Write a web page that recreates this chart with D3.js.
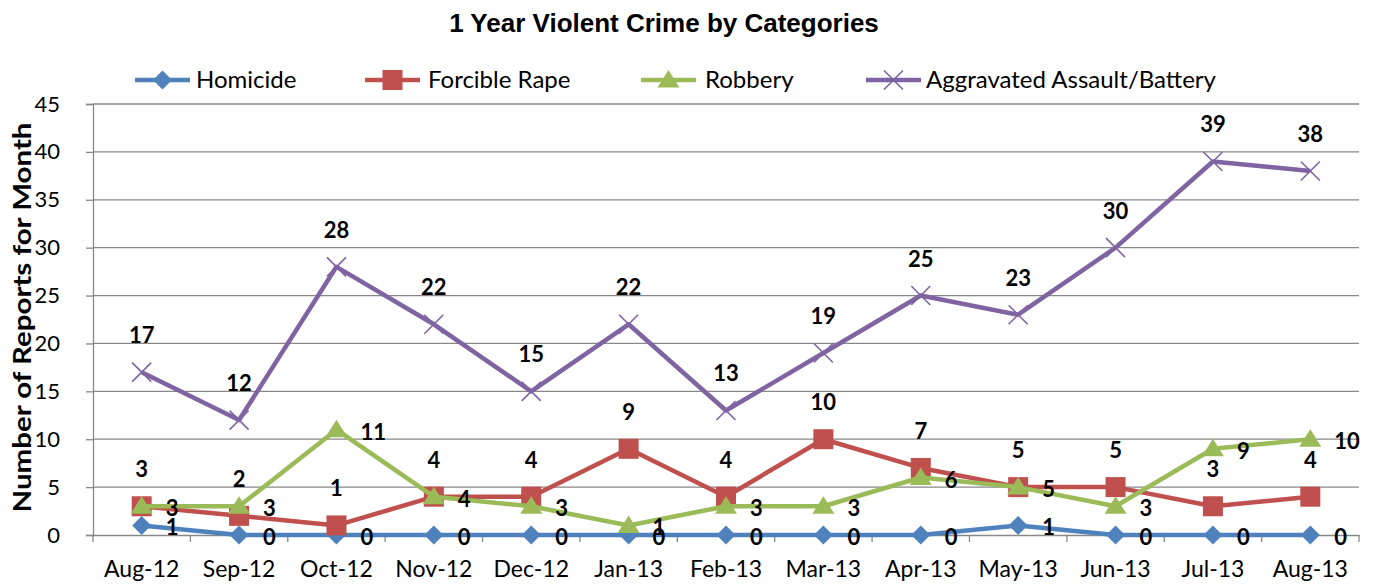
<!DOCTYPE html>
<html>
<head>
<meta charset="utf-8">
<script src="https://cdn.jsdelivr.net/npm/d3@7/dist/d3.min.js"></script>
<style>
  html, body { margin: 0; padding: 0; background: #fff; }
  svg { display: block; }
</style>
</head>
<body>
<svg id="chart" width="1377" height="584"></svg>
<script>
// Monthly report counts, Aug 2012 – Aug 2013
const months = ["Aug-12","Sep-12","Oct-12","Nov-12","Dec-12","Jan-13","Feb-13","Mar-13","Apr-13","May-13","Jun-13","Jul-13","Aug-13"];
const homicide   = [1,0,0,0,0,0,0,0,0,1,0,0,0];
const rape       = [3,2,1,4,4,9,4,10,7,5,5,3,4];
const robbery    = [3,3,11,4,3,1,3,3,6,5,3,9,10];
const aggravated = [17,12,28,22,15,22,13,19,25,23,30,39,38];
const yTicks = [0,5,10,15,20,25,30,35,40,45];

const seriesList = [
  { name: "Homicide", values: homicide, color: "#4F81BD", marker: "diamond", label: "right" },
  { name: "Forcible Rape", values: rape, color: "#C0504D", marker: "square", label: "above" },
  { name: "Robbery", values: robbery, color: "#9BBB59", marker: "triangle", label: "right" },
  { name: "Aggravated Assault/Battery", values: aggravated, color: "#8064A2", marker: "cross", label: "above" }
];

const plot = { left: 93, right: 1359, top: 104, bottom: 535 };
const svg = d3.select("#chart");
const bodyFont = "Lato, 'Open Sans', sans-serif";
const gridColor = "#888";

const x = d3.scaleBand().domain(months).range([plot.left, plot.right]);
const y = d3.scaleLinear().domain([0, 45]).range([plot.bottom, plot.top]);
const cx = m => x(m) + x.bandwidth() / 2;

// Title
svg.append("text")
  .attr("x", 664).attr("y", 32)
  .attr("text-anchor", "middle")
  .attr("font-family", "'Liberation Sans', Arial, sans-serif")
  .attr("font-weight", "bold").attr("font-size", 26)
  .text("1 Year Violent Crime by Categories");

// Horizontal gridlines
svg.append("g").selectAll("line").data(yTicks.filter(t => t > 0)).join("line")
  .attr("x1", plot.left).attr("x2", plot.right)
  .attr("y1", d => y(d)).attr("y2", d => y(d))
  .attr("stroke", gridColor).attr("stroke-width", 1.3);

// Y axis
const yAxis = svg.append("g").attr("transform", `translate(${plot.left},0)`)
  .call(d3.axisLeft(y).tickValues(yTicks).tickSize(7).tickPadding(26));
yAxis.select(".domain").attr("stroke", gridColor).attr("stroke-width", 1.3);
yAxis.selectAll(".tick line").attr("stroke", gridColor).attr("stroke-width", 1.3);
yAxis.selectAll("text").attr("font-family", bodyFont).attr("font-size", 22).attr("fill", "#000");

// X axis with ticks between categories
const xAxis = svg.append("g").attr("transform", `translate(0,${plot.bottom})`)
  .call(d3.axisBottom(x).tickSize(0).tickPadding(26));
xAxis.select(".domain").attr("stroke", gridColor).attr("stroke-width", 1.3);
xAxis.selectAll("text").attr("font-family", bodyFont).attr("font-size", 23).attr("fill", "#000");
const edges = months.map(m => x(m)).concat([plot.right]);
svg.append("g").selectAll("line").data(edges).join("line")
  .attr("x1", d => d).attr("x2", d => d)
  .attr("y1", plot.bottom).attr("y2", plot.bottom + 7)
  .attr("stroke", gridColor).attr("stroke-width", 1.3);

// Y axis title
svg.append("text")
  .attr("transform", `translate(31,${(plot.top + plot.bottom) / 2 - 2}) rotate(-90)`)
  .attr("text-anchor", "middle")
  .attr("font-family", bodyFont).attr("font-weight", "bold").attr("font-size", 25)
  .attr("textLength", 390).attr("lengthAdjust", "spacingAndGlyphs")
  .text("Number of Reports for Month");

// Marker drawing
function drawMarker(g, type, color) {
  if (type === "diamond") {
    const s = 9.5;
    g.append("path").attr("d", `M0,${-s}L${s},0L0,${s}L${-s},0Z`).attr("fill", color);
  } else if (type === "square") {
    const s = 10;
    g.append("rect").attr("x", -s).attr("y", -s).attr("width", 2 * s).attr("height", 2 * s).attr("fill", color);
  } else if (type === "triangle") {
    g.append("path").attr("d", "M0,-10L11,7.5L-11,7.5Z").attr("fill", color);
  } else if (type === "cross") {
    const s = 9.5;
    g.append("path").attr("d", `M${-s},${-s}L${s},${s}M${-s},${s}L${s},${-s}`)
      .attr("stroke", color).attr("stroke-width", 1.6).attr("fill", "none");
  }
}

const line = d3.line().x((d, i) => cx(months[i])).y(d => y(d));

// Series lines and markers
seriesList.forEach(s => {
  const g = svg.append("g");
  g.append("path").datum(s.values)
    .attr("d", line).attr("fill", "none")
    .attr("stroke", s.color).attr("stroke-width", 4.5).attr("stroke-linejoin", "round");
  s.values.forEach((v, i) => {
    const mg = g.append("g").attr("transform", `translate(${cx(months[i])},${y(v)})`);
    drawMarker(mg, s.marker, s.color);
  });
});

// Value labels
seriesList.forEach(s => {
  svg.append("g").selectAll("text").data(s.values).join("text")
    .attr("x", (d, i) => s.label === "above" ? cx(months[i]) : cx(months[i]) + 24)
    .attr("y", d => s.label === "above" ? y(d) - 29 : y(d) + 10)
    .attr("text-anchor", s.label === "above" ? "middle" : "start")
    .attr("font-family", bodyFont).attr("font-weight", "bold").attr("font-size", 22)
    .attr("fill", "#000")
    .text(d => d);
});

// Legend
const legendPos = [
  { x0: 135, tx: 196 },
  { x0: 365, tx: 428 },
  { x0: 641, tx: 705 },
  { x0: 866, tx: 926 }
];
const legend = svg.append("g");
seriesList.forEach((s, i) => {
  const it = legendPos[i];
  const ly = 80;
  legend.append("line")
    .attr("x1", it.x0).attr("x2", it.x0 + 55)
    .attr("y1", ly).attr("y2", ly)
    .attr("stroke", s.color).attr("stroke-width", 4.5);
  const mg = legend.append("g").attr("transform", `translate(${it.x0 + 27.5},${ly})`);
  drawMarker(mg, s.marker, s.color);
  legend.append("text")
    .attr("x", it.tx).attr("y", ly + 8)
    .attr("font-family", bodyFont).attr("font-size", 24).attr("fill", "#000")
    .text(s.name);
});
</script>
</body>
</html>
